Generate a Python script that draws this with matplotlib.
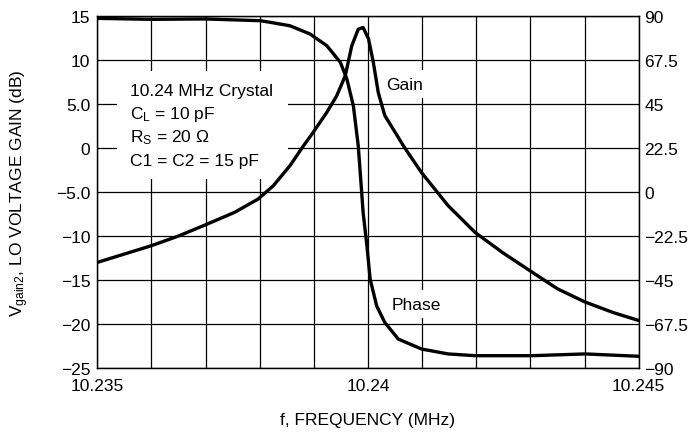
import numpy as np
import matplotlib.pyplot as plt
from matplotlib.patches import Rectangle

plt.rcParams['font.family'] = ['Liberation Sans', 'DejaVu Sans']
plt.rcParams['mathtext.fontset'] = 'custom'
plt.rcParams['mathtext.rm'] = 'Liberation Sans'
plt.rcParams['mathtext.it'] = 'Liberation Sans'

# gain curve (left axis, dB)
gain_f = [10.23500, 10.23600, 10.23650, 10.23699, 10.23754, 10.23797, 10.23825,
          10.23856, 10.23881, 10.23899, 10.23924, 10.23942, 10.23958, 10.23970,
          10.23982, 10.23991, 10.24001, 10.24010, 10.24019, 10.24031, 10.24050,
          10.24068, 10.24099, 10.24148, 10.24198, 10.24249, 10.24303, 10.24350,
          10.24401, 10.24453, 10.24500]
gain_db = [-13.0, -11.1, -10.0, -8.75, -7.3, -5.8, -4.3,
           -2.0, 0.26, 1.8, 4.06, 5.9, 8.2, 11.6,
           13.5, 13.7, 12.4, 9.7, 6.3, 3.7, 1.8,
           0.0, -2.8, -6.55, -9.6, -11.9, -14.1, -16.0,
           -17.5, -18.7, -19.6]

# phase curve (right axis, degrees)
phase_f = [10.23500, 10.23600, 10.23699, 10.23801, 10.23819, 10.23856, 10.23893,
           10.23924, 10.23949, 10.23961, 10.23973, 10.23982, 10.23987, 10.23991,
           10.23998, 10.24004, 10.24016, 10.24031, 10.24056, 10.24099, 10.24148,
           10.24198, 10.24303, 10.24401, 10.24500]
phase_deg = [88.8, 88.3, 88.5, 87.6, 86.8, 85.0, 80.8,
             74.8, 66.3, 57.8, 44.1, 23.7, 5.0, -10.4,
             -27.4, -44.5, -58.2, -66.7, -75.2, -80.3, -82.8,
             -83.7, -83.7, -82.8, -84.0]

xticks = [10.235, 10.24, 10.245]
xtick_labels = ['10.235', '10.24', '10.245']
left_ticks = [15, 10, 5, 0, -5, -10, -15, -20, -25]
left_labels = ['15', '10', '5.0', '0', '\u22125.0', '\u221210', '\u221215', '\u221220', '\u221225']
right_ticks = [90, 67.5, 45, 22.5, 0, -22.5, -45, -67.5, -90]
right_labels = ['90', '67.5', '45', '22.5', '0', '\u221222.5', '\u221245', '\u221267.5', '\u221290']

notes = ['10.24 MHz Crystal', 'C$_\\mathregular{L}$ = 10 pF',
         'R$_\\mathregular{S}$ = 20 \u03a9', 'C1 = C2 = 15 pF']

fs = 12.5
fig = plt.figure(figsize=(6.88, 4.35), dpi=100)
ax = fig.add_axes([0.1414, 0.1517, 0.7869, 0.8092])
ax2 = ax.twinx()

ax.set_xlim(10.235, 10.245)
ax.set_ylim(-25, 15)
ax2.set_ylim(-90, 90)

ax.set_xticks(np.arange(10.235, 10.24501, 0.001), minor=True)
ax.set_xticks(xticks)
ax.set_xticklabels(xtick_labels, fontsize=fs)
ax.set_yticks(left_ticks)
ax.set_yticklabels(left_labels, fontsize=fs)
ax2.set_yticks(right_ticks)
ax2.set_yticklabels(right_labels, fontsize=fs)

ax.grid(True, which='both', color='black', lw=0.9)
ax.tick_params(axis='x', which='both', length=0, pad=7)
ax.tick_params(axis='y', length=0, pad=5)
ax2.tick_params(length=0, pad=4)
for a in (ax, ax2):
    for s in a.spines.values():
        s.set_linewidth(0.9)

ax.plot(gain_f, gain_db, color='black', lw=2.4, solid_capstyle='round',
        solid_joinstyle='round', zorder=5)
ax2.plot(phase_f, phase_deg, color='black', lw=2.4, solid_capstyle='round',
         solid_joinstyle='round', zorder=5)

# white panel behind the crystal notes (breaks the grid)
ax.add_patch(Rectangle((0.0364, 0.5369), 0.316, 0.3069, transform=ax.transAxes,
                       facecolor='white', edgecolor='none', zorder=4))
for i, line in enumerate(notes):
    ax.text(0.0606, 0.7756 - i * 0.0663, line, transform=ax.transAxes,
            fontsize=fs, va='baseline', ha='left', zorder=6)

box = dict(facecolor='white', edgecolor='none', pad=5)
ax.text(0.5685, 0.8068, 'Gain', transform=ax.transAxes, fontsize=fs,
        ha='center', va='center', bbox=box, zorder=4)
ax.text(0.5888, 0.1818, 'Phase', transform=ax.transAxes, fontsize=fs,
        ha='center', va='center', bbox=box, zorder=4)

ax.set_xlabel('f, FREQUENCY (MHz)', fontsize=fs, labelpad=14)
ax.set_ylabel('V$_\\mathregular{gain2}$, LO VOLTAGE GAIN (dB)', fontsize=fs, labelpad=18)

fig.savefig('out.png', dpi=100)
